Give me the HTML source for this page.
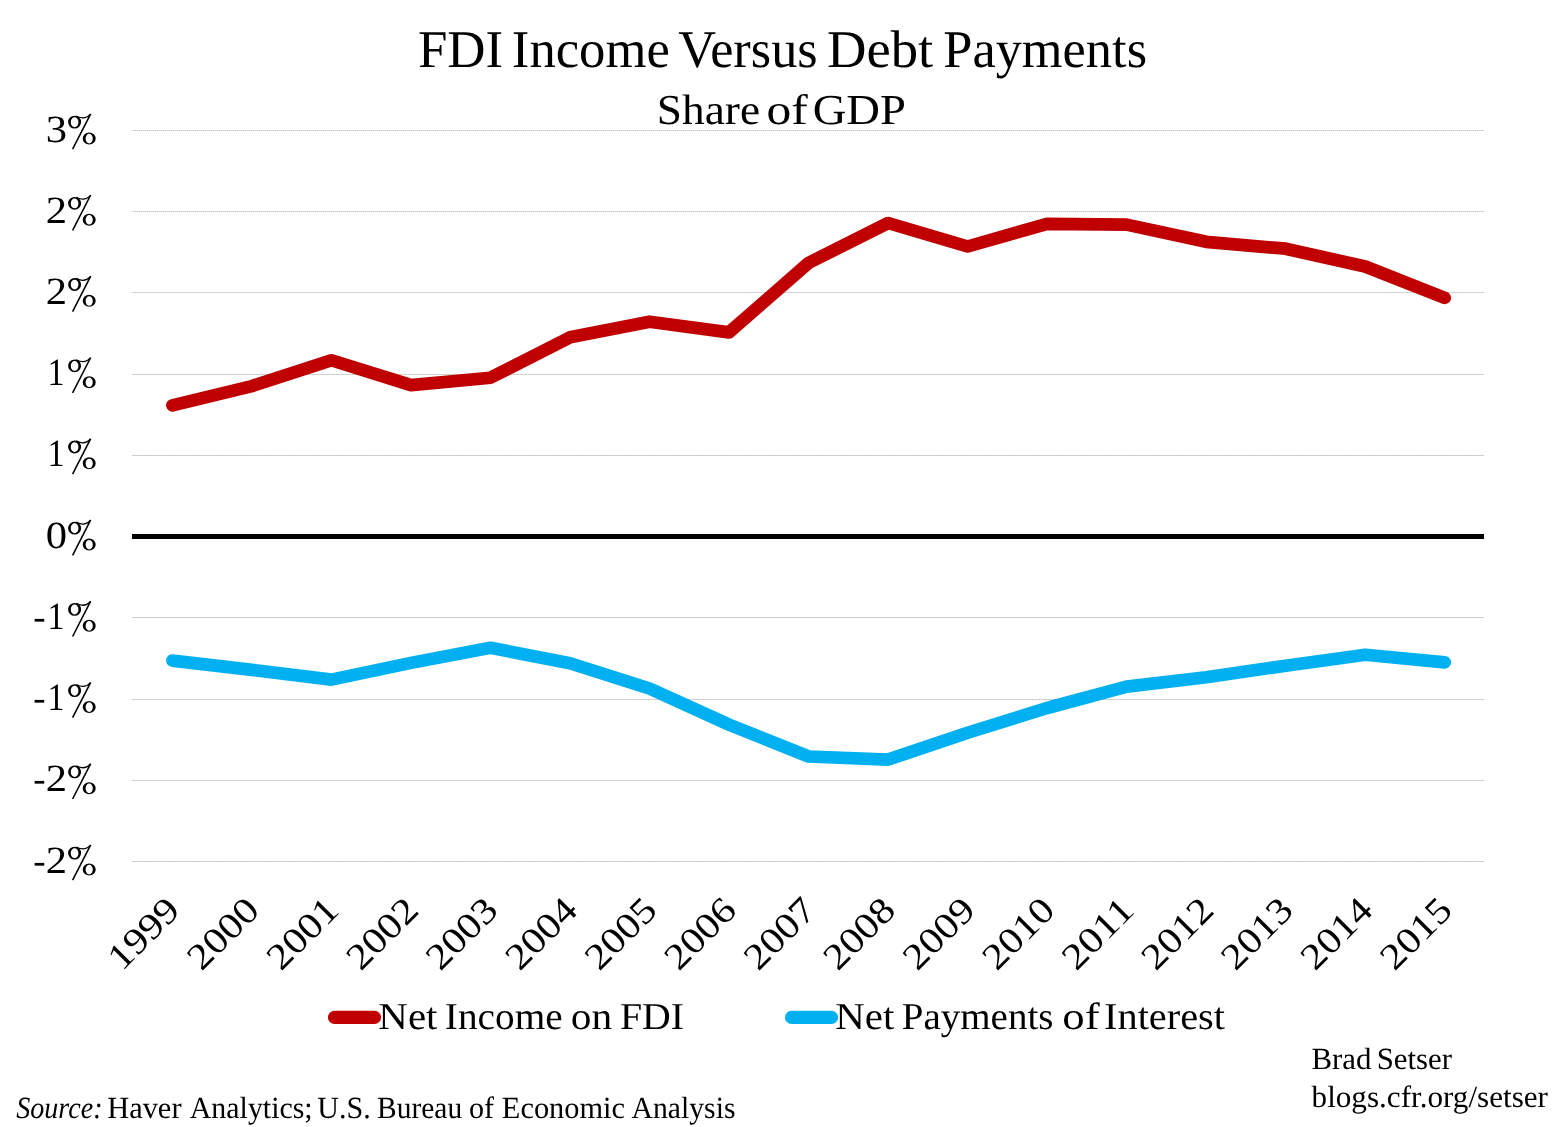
<!DOCTYPE html>
<html lang="en">
<head>
<meta charset="utf-8">
<title>FDI Income Versus Debt Payments</title>
<style>
html,body{margin:0;padding:0;background:#fff;}
body{width:1565px;height:1127px;overflow:hidden;font-family:"Liberation Serif",serif;}
svg{display:block;will-change:transform;}
svg text{text-rendering:geometricPrecision;}
</style>
</head>
<body>
<svg width="1565" height="1127" viewBox="0 0 1565 1127" font-family="'Liberation Serif', serif" fill="#000">
<defs>
<g id="pct">
<path fill-rule="evenodd" d="M-27.9,-19.4a6.5,6.4 0 1,0 13,0a6.5,6.4 0 1,0 -13,0Z M-25.25,-19.3a3.85,4.95 0 1,0 7.7,0a3.85,4.95 0 1,0 -7.7,0Z"/>
<path fill-rule="evenodd" d="M-13.3,-3.05a6.5,6.0 0 1,0 13,0a6.5,6.0 0 1,0 -13,0Z M-10.4,-2.9a3.6,4.8 0 1,0 7.2,0a3.6,4.8 0 1,0 -7.2,0Z"/>
<path d="M-5.3,-27.7L-23.4,7.7" stroke="#000" stroke-width="1.55" fill="none"/>
<path d="M-19.7,-25.5C-16,-23.5 -10.5,-21.8 -5.9,-27.1" stroke="#000" stroke-width="1.3" fill="none"/>
</g>
</defs>
<rect width="1565" height="1127" fill="#fff"/>
<rect x="132" y="130" width="1352" height="1" fill="#e6e6e6" shape-rendering="crispEdges"/>
<line x1="132" x2="1484" y1="130.5" y2="130.5" stroke="#c3c3c3" stroke-width="1" stroke-dasharray="1 1" stroke-dashoffset="1" shape-rendering="crispEdges"/>
<rect x="132" y="211" width="1352" height="1" fill="#e6e6e6" shape-rendering="crispEdges"/>
<line x1="132" x2="1484" y1="211.5" y2="211.5" stroke="#c3c3c3" stroke-width="1" stroke-dasharray="1 1" stroke-dashoffset="1" shape-rendering="crispEdges"/>
<rect x="132" y="292" width="1352" height="1" fill="#dedede" shape-rendering="crispEdges"/>
<line x1="132" x2="1484" y1="292.5" y2="292.5" stroke="#cfcfcf" stroke-width="1" stroke-dasharray="3 1" stroke-dashoffset="2" shape-rendering="crispEdges"/>
<rect x="132" y="374" width="1352" height="1" fill="#dedede" shape-rendering="crispEdges"/>
<line x1="132" x2="1484" y1="374.5" y2="374.5" stroke="#cfcfcf" stroke-width="1" stroke-dasharray="3 1" stroke-dashoffset="0" shape-rendering="crispEdges"/>
<rect x="132" y="455" width="1352" height="1" fill="#dedede" shape-rendering="crispEdges"/>
<line x1="132" x2="1484" y1="455.5" y2="455.5" stroke="#c8c8c8" stroke-width="1" stroke-dasharray="2 1" stroke-dashoffset="0" shape-rendering="crispEdges"/>
<rect x="132" y="617" width="1352" height="1" fill="#dedede" shape-rendering="crispEdges"/>
<line x1="132" x2="1484" y1="617.5" y2="617.5" stroke="#c8c8c8" stroke-width="1" stroke-dasharray="2 1" stroke-dashoffset="0" shape-rendering="crispEdges"/>
<rect x="132" y="699" width="1352" height="1" fill="#dedede" shape-rendering="crispEdges"/>
<line x1="132" x2="1484" y1="699.5" y2="699.5" stroke="#c8c8c8" stroke-width="1" stroke-dasharray="2 1" stroke-dashoffset="0" shape-rendering="crispEdges"/>
<rect x="132" y="780" width="1352" height="1" fill="#dedede" shape-rendering="crispEdges"/>
<line x1="132" x2="1484" y1="780.5" y2="780.5" stroke="#c8c8c8" stroke-width="1" stroke-dasharray="2 1" stroke-dashoffset="0" shape-rendering="crispEdges"/>
<rect x="132" y="861" width="1352" height="1" fill="#dedede" shape-rendering="crispEdges"/>
<line x1="132" x2="1484" y1="861.5" y2="861.5" stroke="#c8c8c8" stroke-width="1" stroke-dasharray="2 1" stroke-dashoffset="0" shape-rendering="crispEdges"/>
<rect x="132" y="534" width="1352" height="5" fill="#000"/>
<polyline points="172.4,660.6 251.9,669.9 331.4,679.6 411.0,662.9 490.5,647.8 570.0,663.2 649.5,688.5 729.0,724.6 808.6,756.5 888.1,759.6 967.6,732.7 1047.1,708.0 1126.6,686.6 1206.2,677.2 1285.7,665.7 1365.2,654.7 1444.7,662.4" fill="none" stroke="#00b0f0" stroke-width="12.7" stroke-linecap="round" stroke-linejoin="round"/>
<polyline points="172.4,405.3 251.9,386.1 331.4,360.3 411.0,385.1 490.5,377.7 570.0,337.3 649.5,321.7 729.0,332.4 808.6,262.9 888.1,223.0 967.6,246.5 1047.1,223.8 1126.6,224.6 1206.2,241.8 1285.7,248.7 1365.2,266.5 1444.7,297.8" fill="none" stroke="#c00000" stroke-width="12.7" stroke-linecap="round" stroke-linejoin="round"/>
<text x="56.3" y="141.5" font-size="38.5" text-anchor="middle" textLength="21.3" lengthAdjust="spacingAndGlyphs">3</text>
<use href="#pct" x="96" y="141.5"/>
<text x="56.3" y="222.7" font-size="38.5" text-anchor="middle" textLength="21.3" lengthAdjust="spacingAndGlyphs">2</text>
<use href="#pct" x="96" y="222.7"/>
<text x="56.3" y="303.9" font-size="38.5" text-anchor="middle" textLength="21.3" lengthAdjust="spacingAndGlyphs">2</text>
<use href="#pct" x="96" y="303.9"/>
<text x="56.0" y="385.2" font-size="38.5" text-anchor="middle" textLength="17" lengthAdjust="spacingAndGlyphs">1</text>
<use href="#pct" x="96" y="385.2"/>
<text x="56.0" y="466.4" font-size="38.5" text-anchor="middle" textLength="17" lengthAdjust="spacingAndGlyphs">1</text>
<use href="#pct" x="96" y="466.4"/>
<text x="56.3" y="547.6" font-size="38.5" text-anchor="middle" textLength="21.3" lengthAdjust="spacingAndGlyphs">0</text>
<use href="#pct" x="96" y="547.6"/>
<text x="39.45" y="628.8" font-size="37" text-anchor="middle">-</text>
<text x="56.0" y="628.8" font-size="38.5" text-anchor="middle" textLength="17" lengthAdjust="spacingAndGlyphs">1</text>
<use href="#pct" x="96" y="628.8"/>
<text x="39.45" y="710.0" font-size="37" text-anchor="middle">-</text>
<text x="56.0" y="710.0" font-size="38.5" text-anchor="middle" textLength="17" lengthAdjust="spacingAndGlyphs">1</text>
<use href="#pct" x="96" y="710.0"/>
<text x="39.45" y="791.3" font-size="37" text-anchor="middle">-</text>
<text x="56.3" y="791.3" font-size="38.5" text-anchor="middle" textLength="21.3" lengthAdjust="spacingAndGlyphs">2</text>
<use href="#pct" x="96" y="791.3"/>
<text x="39.45" y="872.5" font-size="37" text-anchor="middle">-</text>
<text x="56.3" y="872.5" font-size="38.5" text-anchor="middle" textLength="21.3" lengthAdjust="spacingAndGlyphs">2</text>
<use href="#pct" x="96" y="872.5"/>
<text transform="translate(181.8,912) rotate(-45)" font-size="36.5" text-anchor="end" textLength="84.5" lengthAdjust="spacingAndGlyphs">1999</text>
<text transform="translate(261.3,912) rotate(-45)" font-size="36.5" text-anchor="end" textLength="84.5" lengthAdjust="spacingAndGlyphs">2000</text>
<text transform="translate(340.8,912) rotate(-45)" font-size="36.5" text-anchor="end" textLength="84.5" lengthAdjust="spacingAndGlyphs">2001</text>
<text transform="translate(420.4,912) rotate(-45)" font-size="36.5" text-anchor="end" textLength="84.5" lengthAdjust="spacingAndGlyphs">2002</text>
<text transform="translate(499.9,912) rotate(-45)" font-size="36.5" text-anchor="end" textLength="84.5" lengthAdjust="spacingAndGlyphs">2003</text>
<text transform="translate(579.4,912) rotate(-45)" font-size="36.5" text-anchor="end" textLength="84.5" lengthAdjust="spacingAndGlyphs">2004</text>
<text transform="translate(658.9,912) rotate(-45)" font-size="36.5" text-anchor="end" textLength="84.5" lengthAdjust="spacingAndGlyphs">2005</text>
<text transform="translate(738.5,912) rotate(-45)" font-size="36.5" text-anchor="end" textLength="84.5" lengthAdjust="spacingAndGlyphs">2006</text>
<text transform="translate(818.0,912) rotate(-45)" font-size="36.5" text-anchor="end" textLength="84.5" lengthAdjust="spacingAndGlyphs">2007</text>
<text transform="translate(897.5,912) rotate(-45)" font-size="36.5" text-anchor="end" textLength="84.5" lengthAdjust="spacingAndGlyphs">2008</text>
<text transform="translate(977.1,912) rotate(-45)" font-size="36.5" text-anchor="end" textLength="84.5" lengthAdjust="spacingAndGlyphs">2009</text>
<text transform="translate(1056.6,912) rotate(-45)" font-size="36.5" text-anchor="end" textLength="84.5" lengthAdjust="spacingAndGlyphs">2010</text>
<text transform="translate(1136.1,912) rotate(-45)" font-size="36.5" text-anchor="end" textLength="84.5" lengthAdjust="spacingAndGlyphs">2011</text>
<text transform="translate(1215.6,912) rotate(-45)" font-size="36.5" text-anchor="end" textLength="84.5" lengthAdjust="spacingAndGlyphs">2012</text>
<text transform="translate(1295.2,912) rotate(-45)" font-size="36.5" text-anchor="end" textLength="84.5" lengthAdjust="spacingAndGlyphs">2013</text>
<text transform="translate(1374.7,912) rotate(-45)" font-size="36.5" text-anchor="end" textLength="84.5" lengthAdjust="spacingAndGlyphs">2014</text>
<text transform="translate(1454.2,912) rotate(-45)" font-size="36.5" text-anchor="end" textLength="84.5" lengthAdjust="spacingAndGlyphs">2015</text>
<text x="417.90" y="67.3" font-size="53" textLength="85.21" lengthAdjust="spacingAndGlyphs">FDI</text>
<text x="511.85" y="67.3" font-size="53" textLength="157.99" lengthAdjust="spacingAndGlyphs">Income</text>
<text x="678.19" y="67.3" font-size="53" textLength="139.44" lengthAdjust="spacingAndGlyphs">Versus</text>
<text x="826.95" y="67.3" font-size="53" textLength="106.28" lengthAdjust="spacingAndGlyphs">Debt</text>
<text x="943.26" y="67.3" font-size="53" textLength="203.78" lengthAdjust="spacingAndGlyphs">Payments</text>
<text x="656.87" y="123.5" font-size="42.7" textLength="103.17" lengthAdjust="spacingAndGlyphs">Share</text>
<text x="766.46" y="123.5" font-size="42.7" textLength="41.19" lengthAdjust="spacingAndGlyphs">of</text>
<text x="812.72" y="123.5" font-size="42.7" textLength="93.20" lengthAdjust="spacingAndGlyphs">GDP</text>
<line x1="334.5" x2="374.5" y1="1017.45" y2="1017.45" stroke="#c00000" stroke-width="13.2" stroke-linecap="round"/>
<line x1="791.5" x2="831.5" y1="1017.45" y2="1017.45" stroke="#00b0f0" stroke-width="13.2" stroke-linecap="round"/>
<text x="378.39" y="1028.6" font-size="38" textLength="59.13" lengthAdjust="spacingAndGlyphs">Net</text>
<text x="444.86" y="1028.6" font-size="38" textLength="117.79" lengthAdjust="spacingAndGlyphs">Income</text>
<text x="570.89" y="1028.6" font-size="38" textLength="41.37" lengthAdjust="spacingAndGlyphs">on</text>
<text x="619.97" y="1028.6" font-size="38" textLength="64.05" lengthAdjust="spacingAndGlyphs">FDI</text>
<text x="835.19" y="1028.6" font-size="38" textLength="59.12" lengthAdjust="spacingAndGlyphs">Net</text>
<text x="901.76" y="1028.6" font-size="38" textLength="151.66" lengthAdjust="spacingAndGlyphs">Payments</text>
<text x="1062.20" y="1028.6" font-size="38" textLength="37.40" lengthAdjust="spacingAndGlyphs">of</text>
<text x="1104.06" y="1028.6" font-size="38" textLength="120.97" lengthAdjust="spacingAndGlyphs">Interest</text>
<text x="16.28" y="1118" font-size="30.8" textLength="86.21" lengthAdjust="spacingAndGlyphs" font-style="italic">Source:</text>
<text x="107.16" y="1118" font-size="30.8" textLength="74.37" lengthAdjust="spacingAndGlyphs">Haver</text>
<text x="189.77" y="1118" font-size="30.8" textLength="122.91" lengthAdjust="spacingAndGlyphs">Analytics;</text>
<text x="317.36" y="1118" font-size="30.8" textLength="53.38" lengthAdjust="spacingAndGlyphs">U.S.</text>
<text x="377.06" y="1118" font-size="30.8" textLength="85.09" lengthAdjust="spacingAndGlyphs">Bureau</text>
<text x="468.94" y="1118" font-size="30.8" textLength="25.02" lengthAdjust="spacingAndGlyphs">of</text>
<text x="501.87" y="1118" font-size="30.8" textLength="123.15" lengthAdjust="spacingAndGlyphs">Economic</text>
<text x="631.60" y="1118" font-size="30.8" textLength="103.84" lengthAdjust="spacingAndGlyphs">Analysis</text>
<text x="1311.47" y="1069" font-size="30.8" textLength="60.05" lengthAdjust="spacingAndGlyphs">Brad</text>
<text x="1376.69" y="1069" font-size="30.8" textLength="75.26" lengthAdjust="spacingAndGlyphs">Setser</text>
<text x="1311.59" y="1106.8" font-size="30.8" textLength="236.41" lengthAdjust="spacingAndGlyphs">blogs.cfr.org/setser</text>
</svg>
</body>
</html>
